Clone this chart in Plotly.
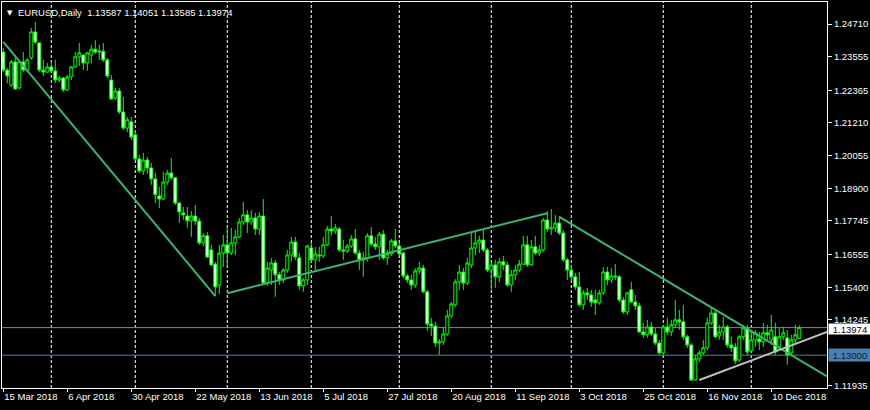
import pandas as pd
import plotly.graph_objects as go

# ---------------- data ----------------
dates = pd.bdate_range("2018-03-15", periods=200)

opens = [1.2372,1.2308,1.2255,1.2337,1.2245,1.2337,1.2308,1.2351,1.2443,1.2404,
1.2308,1.2301,1.2319,1.2305,1.2273,1.2280,1.2238,1.2284,1.2319,1.2355,
1.2361,1.2333,1.2361,1.2382,1.2372,1.2375,1.2344,1.2273,1.2209,1.2234,
1.2160,1.2103,1.2125,1.2079,1.1994,1.1951,1.1990,1.1962,1.1923,1.1863,
1.1852,1.1912,1.1944,1.1927,1.1838,1.1803,1.1792,1.1775,1.1792,1.1774,
1.1697,1.1722,1.1672,1.1622,1.1548,1.1661,1.1690,1.1661,1.1697,1.1718,
1.1771,1.1796,1.1771,1.1785,1.1746,1.1792,1.1555,1.1601,1.1626,1.1584,
1.1566,1.1601,1.1654,1.1700,1.1644,1.1545,1.1566,1.1679,1.1637,1.1654,
1.1651,1.1690,1.1746,1.1739,1.1746,1.1672,1.1668,1.1686,1.1711,1.1661,
1.1637,1.1644,1.1722,1.1693,1.1683,1.1728,1.1644,1.1658,1.1704,1.1686,
1.1661,1.1580,1.1566,1.1548,1.1598,1.1608,1.1524,1.1410,1.1403,1.1343,
1.1347,1.1375,1.1439,1.1478,1.1559,1.1594,1.1555,1.1619,1.1679,1.1697,
1.1707,1.1672,1.1601,1.1619,1.1577,1.1630,1.1619,1.1548,1.1584,1.1601,
1.1622,1.1690,1.1619,1.1683,1.1661,1.1672,1.1778,1.1746,1.1750,1.1767,
1.1732,1.1637,1.1601,1.1577,1.1541,1.1478,1.1520,1.1513,1.1495,1.1485,
1.1520,1.1594,1.1566,1.1580,1.1577,1.1495,1.1453,1.1531,1.1488,1.1474,
1.1382,1.1372,1.1400,1.1375,1.1343,1.1308,1.1400,1.1382,1.1407,1.1425,
1.1418,1.1365,1.1336,1.1212,1.1287,1.1308,1.1326,1.1414,1.1449,1.1368,
1.1382,1.1400,1.1336,1.1329,1.1283,1.1365,1.1396,1.1315,1.1354,1.1357,
1.1347,1.1379,1.1354,1.1365,1.1329,1.1365,1.1361,1.1308,1.1354,1.13587]

highs = [1.2386,1.2316,1.2344,1.2361,1.2344,1.2372,1.2351,1.2457,1.2478,1.2407,
1.2344,1.2333,1.2337,1.2344,1.2287,1.2284,1.2291,1.2323,1.2372,1.2404,
1.2365,1.2372,1.2397,1.2414,1.2397,1.2404,1.2351,1.2291,1.2245,1.2245,
1.2213,1.2142,1.2142,1.2096,1.2008,1.2015,1.2001,1.1980,1.1944,1.1895,
1.1948,1.1955,1.1997,1.1930,1.1842,1.1824,1.1824,1.1810,1.1831,1.1785,
1.1732,1.1736,1.1690,1.1630,1.1690,1.1725,1.1753,1.1750,1.1743,1.1785,
1.1842,1.1813,1.1813,1.1803,1.1806,1.1852,1.1630,1.1644,1.1637,1.1594,
1.1608,1.1672,1.1718,1.1718,1.1661,1.1573,1.1690,1.1697,1.1683,1.1683,
1.1718,1.1757,1.1792,1.1764,1.1753,1.1707,1.1693,1.1725,1.1746,1.1672,
1.1665,1.1732,1.1753,1.1718,1.1736,1.1743,1.1672,1.1711,1.1746,1.1697,
1.1665,1.1587,1.1584,1.1608,1.1630,1.1619,1.1531,1.1432,1.1418,1.1357,
1.1400,1.1460,1.1488,1.1569,1.1619,1.1608,1.1644,1.1736,1.1736,1.1722,
1.1743,1.1679,1.1630,1.1637,1.1644,1.1651,1.1630,1.1601,1.1619,1.1637,
1.1722,1.1722,1.1707,1.1722,1.1690,1.1785,1.1810,1.1817,1.1796,1.1792,
1.1743,1.1644,1.1619,1.1591,1.1594,1.1531,1.1538,1.1531,1.1531,1.1531,
1.1612,1.1612,1.1608,1.1622,1.1584,1.1506,1.1524,1.1559,1.1513,1.1485,
1.1414,1.1425,1.1418,1.1396,1.1354,1.1407,1.1432,1.1425,1.1495,1.1460,
1.1478,1.1372,1.1343,1.1301,1.1318,1.1354,1.1432,1.1467,1.1460,1.1407,
1.1435,1.1407,1.1365,1.1343,1.1372,1.1407,1.1407,1.1389,1.1389,1.1382,
1.1414,1.1407,1.1442,1.1414,1.1396,1.1400,1.1389,1.1372,1.1407,1.14051]

lows = [1.2301,1.2262,1.2248,1.2238,1.2241,1.2301,1.2301,1.2344,1.2400,1.2301,
1.2287,1.2298,1.2298,1.2262,1.2266,1.2231,1.2234,1.2273,1.2316,1.2323,
1.2308,1.2305,1.2333,1.2365,1.2344,1.2337,1.2280,1.2202,1.2202,1.2153,
1.2096,1.2089,1.2061,1.1990,1.1944,1.1937,1.1941,1.1902,1.1838,1.1820,
1.1849,1.1902,1.1920,1.1831,1.1768,1.1778,1.1750,1.1718,1.1760,1.1690,
1.1686,1.1644,1.1615,1.1509,1.1516,1.1612,1.1612,1.1654,1.1654,1.1714,
1.1760,1.1732,1.1760,1.1725,1.1725,1.1548,1.1545,1.1548,1.1506,1.1548,
1.1555,1.1591,1.1630,1.1637,1.1531,1.1524,1.1548,1.1630,1.1601,1.1630,
1.1644,1.1686,1.1722,1.1728,1.1665,1.1637,1.1661,1.1679,1.1654,1.1601,
1.1577,1.1630,1.1686,1.1672,1.1637,1.1637,1.1619,1.1651,1.1679,1.1651,
1.1573,1.1555,1.1531,1.1538,1.1587,1.1520,1.1386,1.1368,1.1329,1.1301,
1.1336,1.1368,1.1432,1.1471,1.1531,1.1531,1.1548,1.1608,1.1654,1.1661,
1.1665,1.1594,1.1531,1.1538,1.1559,1.1601,1.1541,1.1524,1.1566,1.1594,
1.1619,1.1612,1.1615,1.1654,1.1651,1.1665,1.1736,1.1725,1.1736,1.1725,
1.1630,1.1566,1.1559,1.1531,1.1471,1.1460,1.1495,1.1471,1.1442,1.1478,
1.1513,1.1548,1.1555,1.1566,1.1488,1.1446,1.1442,1.1485,1.1460,1.1379,
1.1361,1.1361,1.1368,1.1336,1.1301,1.1301,1.1372,1.1368,1.1396,1.1389,
1.1354,1.1326,1.1209,1.1209,1.1276,1.1301,1.1318,1.1407,1.1361,1.1354,
1.1354,1.1326,1.1311,1.1269,1.1276,1.1354,1.1301,1.1308,1.1329,1.1318,
1.1329,1.1347,1.1336,1.1301,1.1318,1.1354,1.1266,1.1297,1.1343,1.13585]

closes = [1.2308,1.2287,1.2337,1.2241,1.2337,1.2308,1.2344,1.2443,1.2407,1.2308,
1.2301,1.2319,1.2305,1.2273,1.2280,1.2238,1.2284,1.2319,1.2355,1.2369,
1.2333,1.2369,1.2382,1.2372,1.2375,1.2344,1.2287,1.2206,1.2234,1.2160,
1.2103,1.2132,1.2071,1.1994,1.1951,1.1990,1.1962,1.1923,1.1867,1.1852,
1.1912,1.1944,1.1927,1.1838,1.1806,1.1796,1.1775,1.1792,1.1774,1.1697,
1.1722,1.1647,1.1619,1.1541,1.1661,1.1690,1.1661,1.1697,1.1718,1.1771,
1.1796,1.1771,1.1785,1.1746,1.1792,1.1555,1.1608,1.1626,1.1584,1.1566,
1.1601,1.1654,1.1700,1.1647,1.1545,1.1566,1.1686,1.1637,1.1658,1.1651,
1.1690,1.1746,1.1739,1.1750,1.1672,1.1668,1.1686,1.1711,1.1661,1.1637,
1.1644,1.1722,1.1693,1.1683,1.1728,1.1644,1.1658,1.1704,1.1686,1.1658,
1.1580,1.1566,1.1548,1.1598,1.1608,1.1524,1.1410,1.1403,1.1343,1.1347,
1.1375,1.1439,1.1481,1.1559,1.1594,1.1555,1.1626,1.1679,1.1697,1.1707,
1.1672,1.1601,1.1619,1.1577,1.1630,1.1619,1.1548,1.1584,1.1601,1.1622,
1.1690,1.1619,1.1683,1.1661,1.1672,1.1778,1.1746,1.1750,1.1767,1.1732,
1.1637,1.1601,1.1577,1.1541,1.1478,1.1520,1.1513,1.1488,1.1485,1.1520,
1.1594,1.1566,1.1580,1.1577,1.1495,1.1453,1.1520,1.1488,1.1474,1.1382,
1.1372,1.1400,1.1375,1.1343,1.1308,1.1400,1.1382,1.1407,1.1425,1.1418,
1.1365,1.1336,1.1212,1.1287,1.1308,1.1326,1.1414,1.1449,1.1365,1.1382,
1.1400,1.1336,1.1326,1.1280,1.1365,1.1396,1.1311,1.1354,1.1379,1.1347,
1.1379,1.1372,1.1389,1.1311,1.1365,1.1379,1.1301,1.1354,1.1372,1.13974]

# trend lines: (bar index, price) anchor pairs; rays extend to the right edge
trend1 = [(0, 1.2408), (53, 1.1509)]
trend2 = [(56, 1.1519), (136, 1.1802)]
trend3 = [(139, 1.1789), (165, 1.1570)]          # ray
trend4 = [(174, 1.1212), (199, 1.1345)]          # ray (silver)

level_line = 1.13000
ytick_vals = [1.24710, 1.23555, 1.22365, 1.21210, 1.20055, 1.18900,
              1.17745, 1.16555, 1.15400, 1.14245, 1.11935]
xtick_step = 16

# ---------------- figure ----------------
n = len(dates)
idx = list(range(n))
x_range = [-0.325, 205.925]
y_range = [1.11839, 1.25488]

GREEN = "#00ff00"
TREND = "#3cb371"
FONT = "Liberation Sans, Arial, sans-serif"
FS = 9.5

fig = go.Figure()

fig.add_trace(go.Candlestick(
    x=idx, open=opens, high=highs, low=lows, close=closes,
    increasing=dict(line=dict(color=GREEN, width=1), fillcolor="black"),
    decreasing=dict(line=dict(color=GREEN, width=1), fillcolor="white"),
    whiskerwidth=0, showlegend=False, hoverinfo="skip",
))


def ray(p, x_end=None):
    (x0, y0), (x1, y1) = p
    if x_end is None:
        return [x0, x1], [y0, y1]
    slope = (y1 - y0) / (x1 - x0)
    return [x0, x_end], [y0, y0 + slope * (x_end - x0)]


for pts, col, is_ray in [(trend1, TREND, False), (trend2, TREND, False),
                         (trend3, TREND, True), (trend4, "#c0c0c0", True)]:
    xs, ys = ray(pts, x_range[1] if is_ray else None)
    fig.add_trace(go.Scatter(x=xs, y=ys, mode="lines",
                             line=dict(color=col, width=2),
                             showlegend=False, hoverinfo="skip"))

shapes = []
# monthly dashed grid
for i in range(1, n):
    if dates[i].month != dates[i - 1].month:
        shapes.append(dict(type="line", xref="x", yref="paper", x0=i, x1=i,
                           y0=0, y1=1, layer="below",
                           line=dict(color="white", width=1, dash="3px,2px")))
# bid line and level line
last_close = closes[-1]
shapes.append(dict(type="line", xref="paper", yref="y", x0=0, x1=1,
                   y0=last_close, y1=last_close, layer="below",
                   line=dict(color="#7a8899", width=1)))
shapes.append(dict(type="line", xref="paper", yref="y", x0=0, x1=1,
                   y0=level_line, y1=level_line, layer="below",
                   line=dict(color="#4f7fae", width=1)))

tickvals = idx[::xtick_step]
ticktext = [f"{d.day} {d.strftime('%b %Y')}" for d in dates[::xtick_step]]

annotations = [
    dict(xref="paper", yref="y", x=1.0, y=last_close, xanchor="left",
         yanchor="middle", text=f"{last_close:.5f}", showarrow=False,
         bgcolor="white", font=dict(color="black", size=FS, family=FONT),
         borderpad=0, xshift=1, yshift=-1, width=42, height=10,
         align="center"),
    dict(xref="paper", yref="y", x=1.0, y=level_line, xanchor="left",
         yanchor="middle", text=f"{level_line:.5f}", showarrow=False,
         bgcolor="#4a7fb0", font=dict(color="#0a1a2a", size=FS, family=FONT),
         borderpad=0, xshift=1, width=42, height=12, align="center"),
    dict(xref="paper", yref="paper", x=0, y=1, xanchor="left", yanchor="top",
         xshift=3, yshift=-5, text="▼", showarrow=False,
         font=dict(color="white", size=7, family="DejaVu Sans")),
    dict(xref="paper", yref="paper", x=0, y=1, xanchor="left", yanchor="top",
         xshift=14, yshift=-3, showarrow=False,
         text=(f"EURUSD,Daily  {opens[-1]:.5f} {highs[-1]:.5f} "
               f"{lows[-1]:.5f} {closes[-1]:.5f}"),
         font=dict(color="white", size=FS, family=FONT)),
]

fig.update_layout(
    width=870, height=410, autosize=False,
    margin=dict(l=2, r=43, t=2, b=22, autoexpand=False),
    paper_bgcolor="black", plot_bgcolor="black",
    boxgap=0.25, boxgroupgap=0,
    shapes=shapes, annotations=annotations,
    font=dict(family=FONT, size=FS, color="white"),
    hovermode=False,
    xaxis=dict(range=x_range, tickvals=tickvals, ticktext=ticktext,
               tickangle=0, automargin=False,
               ticks="outside", ticklen=3, tickcolor="white",
               ticklabelposition="outside right",
               showgrid=False, zeroline=False, showline=True, mirror=True,
               linecolor="white", linewidth=1, rangeslider=dict(visible=False),
               tickfont=dict(color="white", size=FS, family=FONT)),
    yaxis=dict(range=y_range, side="right", tickvals=ytick_vals,
               ticktext=[f"{v:.5f}" for v in ytick_vals], automargin=False,
               ticks="outside", ticklen=4, tickcolor="white",
               showgrid=False, zeroline=False, showline=True, mirror=True,
               linecolor="white", linewidth=1,
               tickfont=dict(color="white", size=FS, family=FONT)),
)

fig.write_html(
    "out.html",
    config={"displayModeBar": False},
    post_script="document.body.style.margin='0';"
                "document.body.style.overflow='hidden';",
)
